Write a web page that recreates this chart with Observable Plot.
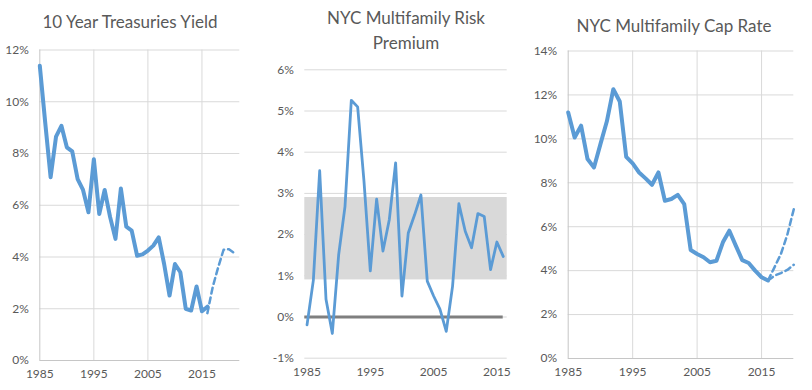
<!DOCTYPE html>
<html>
<head>
<meta charset="utf-8">
<script src="https://cdn.jsdelivr.net/npm/d3@7"></script>
<script src="https://cdn.jsdelivr.net/npm/@observablehq/plot@0.6"></script>
<style>
  body { margin: 0; background: #fff; }
  #root { position: relative; width: 812px; height: 390px; overflow: hidden; font-family: Lato, "Open Sans", sans-serif; }
  .panel { position: absolute; top: 0; }
  .title { position: absolute; text-align: center; color: #595959; font-size: 17px; line-height: 24px; white-space: nowrap; }
</style>
</head>
<body>
<div id="root"></div>
<script>
// ---- Data ----
const years = d3.range(1985, 2017); // 1985..2016
const treasuryYield = [11.39, 9.2, 7.08, 8.65, 9.07, 8.24, 8.08, 7.01, 6.59, 5.73, 7.78, 5.66, 6.59, 5.55, 4.70, 6.65, 5.17, 5.02, 4.05, 4.10, 4.25, 4.44, 4.76, 3.73, 2.51, 3.73, 3.41, 2.0, 1.93, 2.86, 1.90, 2.08];
const treasuryProjYears = [2016, 2017, 2018, 2019, 2020, 2021];
const treasuryProj = [1.83, 2.85, 3.6, 4.28, 4.3, 4.15];

const riskPremium = [-0.19, 0.89, 3.55, 0.43, -0.40, 1.51, 2.68, 5.26, 5.10, 3.3, 1.12, 2.86, 1.60, 2.36, 3.74, 0.51, 2.04, 2.48, 2.96, 0.87, 0.51, 0.19, -0.35, 0.75, 2.75, 2.08, 1.68, 2.51, 2.44, 1.15, 1.82, 1.47];
const premiumBand = [0.9, 2.9]; // shaded range

const capRate = [11.2, 10.06, 10.6, 9.08, 8.70, 9.76, 10.8, 12.26, 11.7, 9.18, 8.88, 8.47, 8.2, 7.91, 8.47, 7.18, 7.26, 7.45, 7.03, 4.94, 4.76, 4.61, 4.38, 4.45, 5.29, 5.82, 5.14, 4.48, 4.35, 4.0, 3.70, 3.55];
const capProjYears = [2016, 2017, 2018, 2019, 2020];
const capProjHigh = [3.55, 4.15, 4.76, 5.64, 6.8];
const capProjLow = [3.55, 3.77, 3.89, 4.03, 4.27];

const xTickYears = [1985, 1995, 2005, 2015];
const yTicksTreasury = [0, 2, 4, 6, 8, 10, 12];
const yTicksPremium = [-1, 0, 1, 2, 3, 4, 5, 6];
const yTicksCap = [0, 2, 4, 6, 8, 10, 12, 14];

const titles = ["10 Year Treasuries Yield", "NYC Multifamily Risk\nPremium", "NYC Multifamily Cap Rate"];

// ---- Helpers ----
const BLUE = "#5b9bd5";
const GRID = "#d9d9d9";
const AXIS = "#c6c6c6";
const root = document.getElementById("root");
const pts = (xs, ys) => xs.map((x, i) => ({x, y: ys[i]}));

function addPanel({left, width, margins, xDomain, yDomain, yTicks, marks}) {
  const [mt, mr, mb, ml] = margins;
  const svg = Plot.plot({
    width, height: 390,
    marginTop: mt, marginRight: mr, marginBottom: mb, marginLeft: ml,
    style: {fontFamily: "Lato, 'Open Sans', sans-serif", fontSize: "12px", color: "#595959", background: "transparent", overflow: "visible"},
    x: {domain: xDomain, ticks: xTickYears, tickFormat: d => String(d), tickSize: 0, tickPadding: 9, label: null},
    y: {domain: yDomain, ticks: yTicks, tickFormat: d => d + "%", tickSize: 0, tickPadding: 11, label: null},
    marks
  });
  const div = document.createElement("div");
  div.className = "panel";
  div.style.left = left + "px";
  div.appendChild(svg);
  root.appendChild(div);
}
function addTitle(text, cx, top) {
  const lines = text.split("\n");
  lines.forEach((t, i) => {
    const d = document.createElement("div");
    d.className = "title";
    d.textContent = t;
    d.style.left = (cx - 150) + "px";
    d.style.width = "300px";
    d.style.top = (top + i * 25) + "px";
    root.appendChild(d);
  });
}

// Panel 1: Treasuries
addPanel({
  left: 0, width: 250, margins: [49.5, 10.7, 30, 39.3],
  xDomain: [1985, 2022], yDomain: [0, 12], yTicks: yTicksTreasury,
  marks: [
    Plot.ruleY(yTicksTreasury.filter(d => d > 0), {stroke: GRID}),
    Plot.ruleX(xTickYears.slice(1), {stroke: GRID}),
    Plot.ruleY([0], {stroke: AXIS}),
    Plot.ruleX([1985], {stroke: AXIS}),
    Plot.line(pts(years, treasuryYield), {x: "x", y: "y", stroke: BLUE, strokeWidth: 4, strokeLinejoin: "round"}),
    Plot.line(pts(treasuryProjYears, treasuryProj), {x: "x", y: "y", stroke: BLUE, strokeWidth: 2.5, strokeDasharray: "6,4"})
  ]
});

// Panel 2: Risk premium
addPanel({
  left: 270, width: 250, margins: [69.3, 13.3, 32.3, 34.3],
  xDomain: [1984.65, 2016.63], yDomain: [-1, 6], yTicks: yTicksPremium,
  marks: [
    Plot.ruleY(yTicksPremium, {stroke: GRID}),
    Plot.rectY([premiumBand], {y1: d => d[0], y2: d => d[1], fill: "#d9d9d9"}),
    Plot.ruleY([0], {x1: 1984.65, x2: years[years.length - 1], stroke: "#7f7f7f", strokeWidth: 3}),
    Plot.line(pts(years, riskPremium), {x: "x", y: "y", stroke: BLUE, strokeWidth: 2.8, strokeLinejoin: "round"})
  ]
});

// Panel 3: Cap rate
addPanel({
  left: 530, width: 282, margins: [50.5, 18.7, 32, 37.7],
  xDomain: [1985, 2020], yDomain: [0, 14], yTicks: yTicksCap,
  marks: [
    Plot.ruleY(yTicksCap.filter(d => d > 0), {stroke: GRID}),
    Plot.ruleX(xTickYears.slice(1), {stroke: GRID}),
    Plot.ruleY([0], {stroke: AXIS}),
    Plot.ruleX([1985], {stroke: AXIS}),
    Plot.line(pts(years, capRate), {x: "x", y: "y", stroke: BLUE, strokeWidth: 4, strokeLinejoin: "round"}),
    Plot.line(pts(capProjYears, capProjHigh), {x: "x", y: "y", stroke: BLUE, strokeWidth: 2.5, strokeDasharray: "6,4"}),
    Plot.line(pts(capProjYears, capProjLow), {x: "x", y: "y", stroke: BLUE, strokeWidth: 2.5, strokeDasharray: "6,4"})
  ]
});

addTitle(titles[0], 130, 10);
addTitle(titles[1], 406, 6);
addTitle(titles[2], 674, 14);
</script>
</body>
</html>
